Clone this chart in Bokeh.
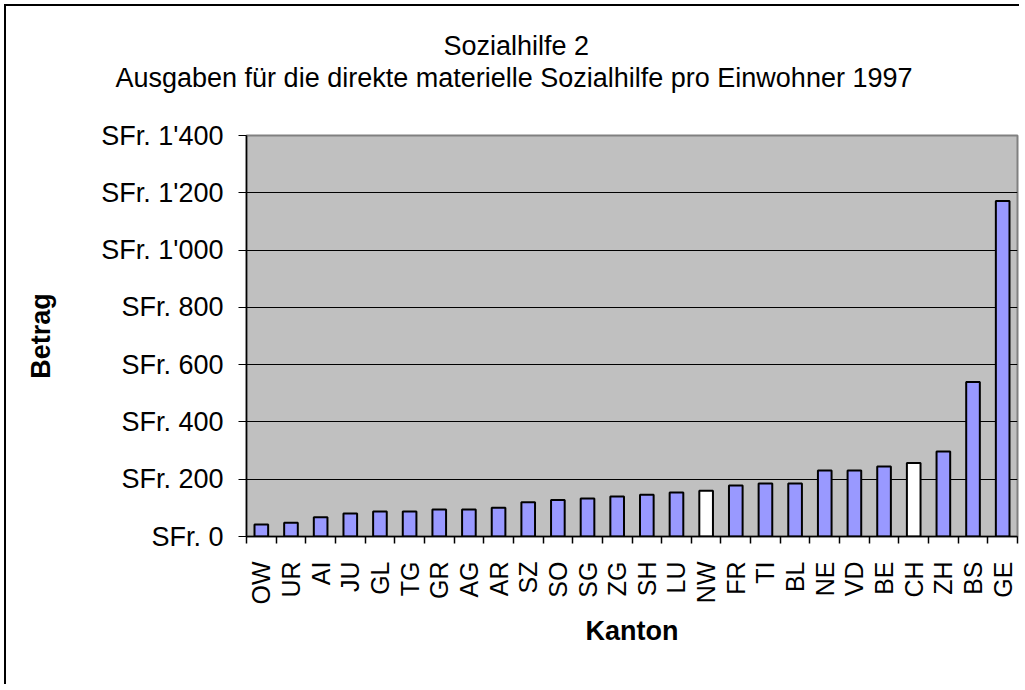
from bokeh.plotting import figure
from bokeh.models import ColumnDataSource, Range1d, FixedTicker, Title
from bokeh.embed import file_html
from bokeh.resources import INLINE
import math

# ---- data ----
cantons = ["OW", "UR", "AI", "JU", "GL", "TG", "GR", "AG", "AR", "SZ", "SO", "SG", "ZG",
           "SH", "LU", "NW", "FR", "TI", "BL", "NE", "VD", "BE", "CH", "ZH", "BS", "GE"]
betrag = [42, 48, 67, 80, 87, 87, 94, 94, 100, 120, 127, 133, 140,
          146, 154, 160, 178, 185, 185, 230, 230, 244, 257, 297, 539, 1171]
highlight = ["NW", "CH"]
y_ticks = [0, 200, 400, 600, 800, 1000, 1200, 1400]
y_tick_labels = ["SFr. 0", "SFr. 200", "SFr. 400", "SFr. 600", "SFr. 800",
                 "SFr. 1'000", "SFr. 1'200", "SFr. 1'400"]
title1 = "Sozialhilfe 2"
title2 = "Ausgaben für die direkte materielle Sozialhilfe pro Einwohner 1997"
x_title = "Kanton"
y_title = "Betrag"

FONT = "Liberation Sans"
FS = "27px"
BAR = "#9999ff"

n = len(cantons)
xs = [i + 0.5 for i in range(n)]
colors = ["white" if c in highlight else BAR for c in cantons]
src = ColumnDataSource(dict(x=xs, top=betrag, color=colors, name=cantons))

p = figure(width=1015, height=680, output_backend="svg", toolbar_location=None,
           x_range=Range1d(0, n), y_range=Range1d(0, 1400),
           min_border_left=240, min_border_right=4, min_border_top=129,
           min_border_bottom=150,
           styles={"border-left": "2px solid black", "border-top": "2px solid black",
                   "border-right": "none", "border-bottom": "none",
                   "margin-left": "4px", "margin-top": "4px"})
p.background_fill_color = "#c0c0c0"
p.border_fill_color = "white"
p.outline_line_color = "#808080"
p.outline_line_width = 2

p.vbar(x="x", top="top", bottom=0, width=0.46, source=src,
       fill_color="color", line_color="black", line_width=2)

# grid
p.xgrid.visible = False
p.ygrid.ticker = FixedTicker(ticks=y_ticks[1:-1])
p.ygrid.grid_line_color = "black"
p.ygrid.grid_line_width = 1

# y axis
ya = p.yaxis[0]
ya.ticker = FixedTicker(ticks=y_ticks)
ya.major_label_overrides = {t: l for t, l in zip(y_ticks, y_tick_labels)}
ya.major_label_text_font = FONT
ya.major_label_text_font_size = FS
ya.major_label_text_color = "black"
ya.major_tick_in = 0
ya.major_tick_out = 8
ya.minor_tick_out = 0
ya.minor_tick_in = 0
ya.major_label_standoff = 15
ya.axis_line_color = "black"
ya.axis_line_width = 1.5
ya.major_tick_line_color = "black"
ya.axis_label = y_title
ya.axis_label_text_font = FONT
ya.axis_label_text_font_size = FS
ya.axis_label_text_font_style = "bold"
ya.axis_label_text_color = "black"
ya.axis_label_standoff = 42

# x axis: labels at centres, ticks at boundaries
xa = p.xaxis[0]
xa.ticker = FixedTicker(ticks=xs, minor_ticks=list(range(n + 1)))
xa.major_label_overrides = {x: c for x, c in zip(xs, cantons)}
xa.major_label_orientation = math.pi / 2
xa.major_label_text_font = FONT
xa.major_label_text_font_size = "25px"
xa.major_label_text_color = "black"
xa.major_tick_in = 0
xa.major_tick_out = 0
xa.minor_tick_in = 0
xa.minor_tick_out = 7
xa.minor_tick_line_color = "black"
xa.minor_tick_line_width = 1.5
xa.major_label_standoff = 18
xa.axis_line_color = "black"
xa.axis_line_width = 1.5
xa.axis_label = x_title
xa.axis_label_text_font = FONT
xa.axis_label_text_font_size = FS
xa.axis_label_text_font_style = "bold"
xa.axis_label_text_color = "black"
xa.axis_label_standoff = 8

# titles: an invisible spacer next to the plot area, then the subtitle, then the title
p.add_layout(Title(text=" ", standoff=11, text_font=FONT, text_font_size=FS,
                   text_color="white"), "above")
p.add_layout(Title(text=title2, align="left", offset=-131, standoff=0,
                   text_font=FONT, text_font_size=FS, text_font_style="normal",
                   text_color="black"), "above")
p.add_layout(Title(text=title1, align="left", offset=197, standoff=0,
                   text_font=FONT, text_font_size=FS, text_font_style="normal",
                   text_color="black"), "above")

open("out.html", "w").write(file_html(p, INLINE))
